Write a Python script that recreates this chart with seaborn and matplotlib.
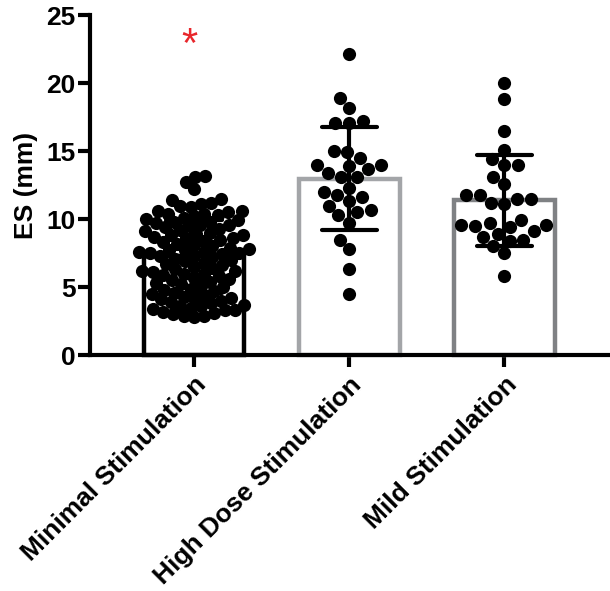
import numpy as np
import pandas as pd
import matplotlib
matplotlib.use("Agg")
import matplotlib.pyplot as plt
import seaborn as sns

# ---------------- data ----------------
categories = ["Minimal Stimulation", "High Dose Stimulation", "Mild Stimulation"]

minimal_vals = [
    13.2, 13.1, 12.7, 12.2,
    11.5, 11.4, 11.1, 11.0, 11.2, 10.9,
    10.6, 10.5, 10.4, 10.3, 10.2, 10.1, 10.0, 10.4, 10.6,
    9.9, 9.8, 9.7, 9.6, 9.5, 9.4, 9.3, 9.2, 9.6, 9.8, 9.1, 9.0,
    8.9, 8.8, 8.7, 8.6, 8.5, 8.4, 8.3, 8.2, 8.1, 8.6, 8.8, 8.0,
    7.9, 7.8, 7.7, 7.6, 7.5, 7.4, 7.3, 7.2, 7.1, 7.5, 7.7, 7.0, 7.3, 7.6,
    6.9, 6.8, 6.6, 6.5, 6.3, 6.2, 6.1, 6.0, 6.7, 6.4, 6.0, 6.2,
    5.9, 5.8, 5.6, 5.4, 5.3, 5.1, 5.0, 5.7, 5.5, 5.2,
    4.9, 4.7, 4.5, 4.3, 4.2, 4.1, 4.0, 4.4, 4.6, 4.8, 4.2,
    3.9, 3.8, 3.7, 3.6, 3.5, 3.4, 3.3, 3.2, 3.1, 3.0, 3.3, 3.6,
    2.9, 2.8, 2.9,
]

high_dose_vals = [
    22.1, 18.9, 18.2, 17.1, 17.1, 17.2, 14.9, 15.0, 14.5, 14.0,
    13.7, 14.0, 13.9, 13.4, 13.1, 13.1, 12.3, 12.0, 11.8, 11.6,
    11.0, 11.3, 10.7, 10.3, 10.5, 9.7, 8.5, 7.8, 6.3, 4.5,
]

mild_vals = [
    20.0, 18.8, 16.5, 15.1, 14.4, 14.0, 14.0, 13.1, 12.6, 11.8,
    11.5, 11.2, 11.1, 11.5, 11.8, 9.7, 9.6, 9.4, 9.5, 9.6,
    9.9, 8.9, 8.5, 8.0, 7.5, 8.4, 8.7, 9.1, 5.8,
]

bar_edge_colors = ["#000000", "#a3a5a8", "#7f8184"]

star_text = "*"
star_y = 22.75

y_ticks = [0, 5, 10, 15, 20, 25]
y_label = "ES (mm)"

group_values = [minimal_vals, high_dose_vals, mild_vals]
df = pd.DataFrame({
    "group": sum([[c] * len(v) for c, v in zip(categories, group_values)], []),
    "value": sum(group_values, []),
})

# ---------------- style ----------------
sns.set_style("ticks")
plt.rcParams["font.family"] = ["Liberation Sans", "DejaVu Sans"]
plt.rcParams["font.weight"] = "bold"
for key in ["text.color", "axes.labelcolor", "xtick.color", "ytick.color",
            "axes.edgecolor"]:
    plt.rcParams[key] = "black"

fig = plt.figure(figsize=(6.1, 5.91), dpi=100)
ax = fig.add_axes([0.1475, 0.399, 0.8525, 0.5756])

sns.barplot(data=df, x="group", y="value", order=categories,
            errorbar="sd", capsize=0.355, width=0.65,
            color="white", linewidth=3.2,
            err_kws={"color": "black", "linewidth": 3.0},
            ax=ax)
for patch, ec in zip(ax.patches, bar_edge_colors):
    patch.set_edgecolor(ec)
    patch.set_facecolor("white")
    patch.set_clip_on(False)
for ln in ax.lines:
    ln.set_zorder(2.5)

# swarm layout sizes per group (the dense group is packed tighter,
# then all markers are drawn at the same size, overlapping like Prism)
layout_sizes = [7.2, 9.5, 9.5]
draw_size = 9.5
n_before = len(ax.collections)
for cat, vals, s in zip(categories, group_values, layout_sizes):
    sub = df[df["group"] == cat]
    sns.swarmplot(data=sub, x="group", y="value", order=categories,
                  color="black", size=s, linewidth=0, ax=ax,
                  warn_thresh=1.0)

ax.set_ylim(0, 25)
ax.set_xlim(-0.67, 2.68)

# compute swarm positions, then freeze them and enlarge markers
fig.canvas.draw()
for coll in ax.collections[n_before:]:
    if "draw" in coll.__dict__:
        del coll.__dict__["draw"]
    coll.set_sizes([draw_size ** 2])
    coll.set_zorder(3)

ax.text(-0.03, star_y, star_text, color="#e8262b", fontsize=30,
        ha="center", va="center", fontweight="normal")

ax.set_yticks(y_ticks)
ax.set_ylabel(y_label, fontsize=19, fontweight="bold", labelpad=6)
ax.set_xlabel("")

for side in ["left", "bottom"]:
    ax.spines[side].set_linewidth(3.0)
    ax.spines[side].set_color("black")
    ax.spines[side].set_zorder(7)
ax.spines["top"].set_visible(False)
ax.spines["right"].set_visible(False)

ax.tick_params(axis="both", length=8.5, width=3.0, direction="out",
               color="black", labelcolor="black")
ax.tick_params(axis="y", labelsize=19, pad=2)
ax.tick_params(axis="x", labelsize=19, pad=4)
for lbl in ax.get_yticklabels():
    lbl.set_fontweight("bold")
for lbl in ax.get_xticklabels():
    lbl.set_fontweight("bold")
    lbl.set_rotation(45)
    lbl.set_ha("right")
    lbl.set_va("top")
    lbl.set_rotation_mode("anchor")

fig.savefig("out.png", dpi=100)
